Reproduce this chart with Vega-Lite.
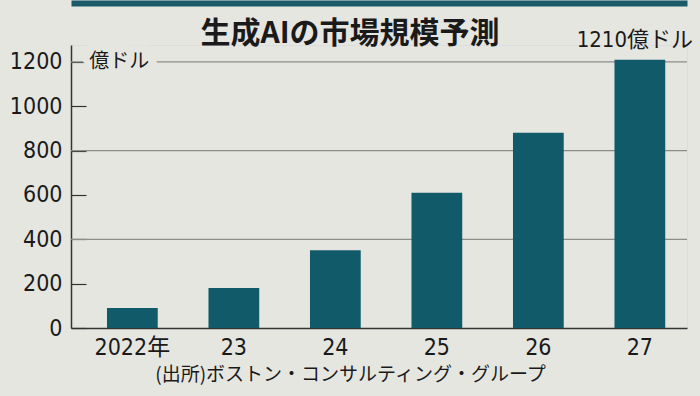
{
  "$schema": "https://vega.github.io/schema/vega-lite/v6.json",
  "autosize": {"type": "none"},
  "width": 616,
  "height": 283,
  "padding": {"left": 71, "top": 45, "right": 13, "bottom": 68},
  "background": "#e6e6e1",
  "title": {
    "text": "生成AIの市場規模予測",
    "font": "Noto Sans CJK JP",
    "fontSize": 30,
    "fontWeight": "bold",
    "color": "#1a1a1a",
    "anchor": "middle",
    "dx": -29,
    "offset": -46
  },
  "datasets": {
    "bars": [
      {"year": "2022年", "value": 90, "label": ""},
      {"year": "23", "value": 180, "label": ""},
      {"year": "24", "value": 350, "label": ""},
      {"year": "25", "value": 610, "label": ""},
      {"year": "26", "value": 880, "label": ""},
      {"year": "27", "value": 1210, "label": "1210億ドル"}
    ],
    "grid": [{"value": 400}, {"value": 800}, {"value": 1200}],
    "unit": [{"year": "2022年", "value": 1200, "label": "億ドル"}]
  },
  "encoding": {
    "x": {
      "field": "year",
      "type": "nominal",
      "sort": null,
      "scale": {"paddingInner": 0.5, "paddingOuter": 0.2845, "align": 0.623},
      "axis": null
    },
    "y": {
      "field": "value",
      "type": "quantitative",
      "scale": {"domain": [0, 1276], "nice": false},
      "axis": {
        "title": null,
        "values": [0, 200, 400, 600, 800, 1000, 1200],
        "format": "d",
        "grid": false,
        "labelFont": "DejaVu Sans Condensed, Liberation Sans Narrow, Roboto, Noto Sans CJK JP",
        "labelFontSize": 23,
        "labelColor": "#1a1a1a",
        "tickSize": -15,
        "tickColor": "#333333",
        "tickWidth": 1.2,
        "labelPadding": 24,
        "domainColor": "#333333",
        "domainWidth": 1.5
      }
    }
  },
  "layer": [
    {
      "data": {"name": "grid"},
      "mark": {"type": "rule", "color": "#8c8c88", "strokeWidth": 1.2},
      "encoding": {"x": null, "y": {"field": "value", "type": "quantitative"}}
    },
    {
      "data": {"name": "unit"},
      "mark": {"type": "text", "font": "Noto Sans CJK JP", "fontSize": 20, "dx": -13, "baseline": "middle", "stroke": "#e6e6e1", "strokeWidth": 14, "color": "#e6e6e1"},
      "encoding": {"text": {"field": "label"}}
    },
    {
      "data": {"name": "unit"},
      "mark": {"type": "text", "font": "Noto Sans CJK JP", "fontSize": 20, "dx": -13, "baseline": "middle", "color": "#1a1a1a"},
      "encoding": {"text": {"field": "label"}}
    },
    {
      "data": {"name": "bars"},
      "mark": {"type": "bar", "color": "#115a6a"},
      "encoding": {
        "x": {
          "field": "year",
          "type": "nominal",
          "sort": null,
          "axis": {
            "orient": "bottom",
            "title": "(出所)ボストン・コンサルティング・グループ",
            "titleFont": "Noto Sans CJK JP",
            "titleFontSize": 19,
            "titleFontWeight": "normal",
            "titleColor": "#1a1a1a",
            "titlePadding": 6,
            "titleX": 279,
            "titleAnchor": "middle",
            "labelAngle": 0,
            "labelFont": "DejaVu Sans Condensed, Liberation Sans Narrow, Roboto, Noto Sans CJK JP",
            "labelFontSize": 23,
            "labelColor": "#1a1a1a",
            "labelPadding": 8,
            "ticks": false,
            "domainColor": "#333333",
            "domainWidth": 1.5
          }
        }
      }
    },
    {
      "data": {"name": "bars"},
      "mark": {"type": "text", "font": "DejaVu Sans Condensed, Liberation Sans Narrow, Roboto, Noto Sans CJK JP", "fontSize": 22, "dx": -5, "dy": -8, "baseline": "bottom", "color": "#1a1a1a"},
      "encoding": {
        "text": {"field": "label"},
        "x": {
          "field": "year",
          "type": "nominal",
          "sort": null,
          "axis": {
            "orient": "top",
            "title": null,
            "labels": false,
            "ticks": false,
            "offset": 42,
            "domainColor": "#1a5a6a",
            "domainWidth": 6
          }
        }
      }
    }
  ]
}
